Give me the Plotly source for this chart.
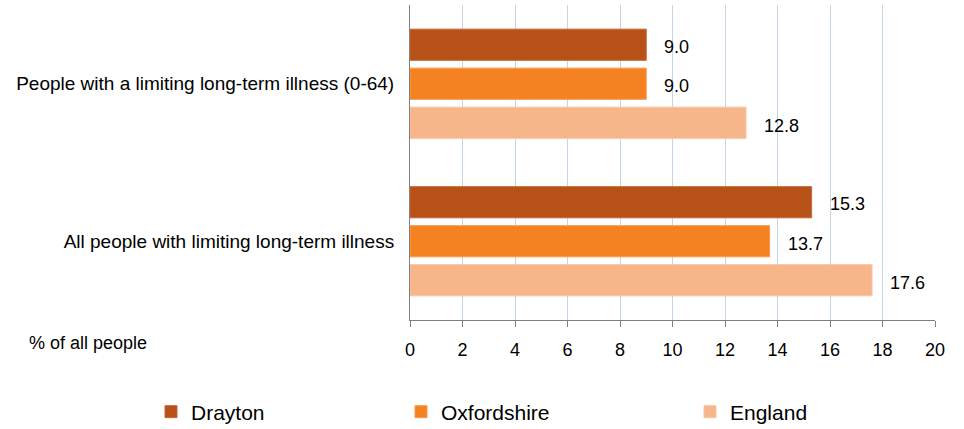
import plotly.graph_objects as go

categories = ["People with a limiting long-term illness (0-64)",
              "All people with limiting long-term illness"]
series_names = ["Drayton", "Oxfordshire", "England"]
drayton = [9.0, 15.3]
oxfordshire = [9.0, 13.7]
england = [12.8, 17.6]
colors = ["#B85117", "#F58220", "#F7B58A"]
edge_colors = ["#C4693A", "#F89A4F", "#F9C4A2"]
x_ticks = [0, 2, 4, 6, 8, 10, 12, 14, 16, 18, 20]

values = [drayton, oxfordshire, england]
FONT = "Liberation Sans, Arial, sans-serif"

fig = go.Figure()
legend_ids = ["legend", "legend2", "legend3"]
for name, vals, col, ec, lg in zip(series_names, values, colors, edge_colors, legend_ids):
    fig.add_trace(go.Bar(
        y=categories, x=vals, name=name, orientation="h",
        marker=dict(color=col, line=dict(width=1, color=ec)),
        legend=lg, showlegend=True,
    ))

# data labels via annotations anchored on data values
for i, vals in enumerate(values):
    for j, cat in enumerate(categories):
        fig.add_annotation(
            x=vals[j], y=cat, text=f"{vals[j]:.1f}", showarrow=False,
            xanchor="left", xshift=16, yshift=(i - 1) * -39.3 - 2.5,
            font=dict(family=FONT, size=18, color="#000000"),
        )

fig.add_annotation(
    x=(27 - 410) / 525, y=-(343 - 320) / 315, xref="paper", yref="paper",
    text="% of all people", showarrow=False, xanchor="left", yanchor="middle",
    font=dict(family=FONT, size=18, color="#000000"),
)

legend_x = [151 / 964, 401 / 964, 690 / 964]
leg_common = dict(orientation="h", yanchor="middle", xanchor="left",
                  xref="container", yref="container", y=1 - 412 / 429,
                  font=dict(family=FONT, size=21, color="#000000"),
                  bgcolor="rgba(0,0,0,0)", itemwidth=30, tracegroupgap=0,
                  visible=True)

fig.update_layout(
    width=964, height=429, showlegend=True,
    margin=dict(l=410, r=29, t=5, b=109, autoexpand=False),
    paper_bgcolor="white", plot_bgcolor="white",
    barmode="group", bargap=0.257, bargroupgap=0.2,
    font=dict(family=FONT, size=19, color="#000000"),
    legend=dict(x=legend_x[0], **leg_common),
    legend2=dict(x=legend_x[1], **leg_common),
    legend3=dict(x=legend_x[2], **leg_common),
    xaxis=dict(range=[0, 20], tickvals=x_ticks, ticks="outside", ticklen=6,
               tickcolor="#808080", showline=True, linecolor="#808080", linewidth=1,
               showgrid=True, gridcolor="#C5D5E8", gridwidth=1, zeroline=False,
               tickfont=dict(family=FONT, size=18, color="#000000"), ticklabelstandoff=7,
               fixedrange=True),
    yaxis=dict(autorange="reversed", showline=True, linecolor="#808080", linewidth=1,
               ticks="", showgrid=False, tickfont=dict(family=FONT, size=19, color="#000000"),
               ticklabelstandoff=11, fixedrange=True),
)

fig.write_html("out.html", config={"displayModeBar": False},
               post_script="document.body.style.margin='0';document.body.style.overflow='hidden';")
